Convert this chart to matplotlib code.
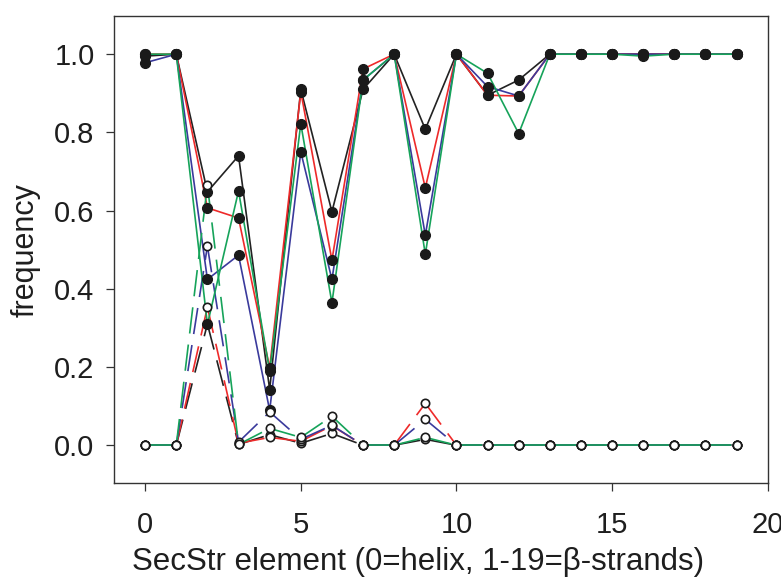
import numpy as np
import matplotlib
matplotlib.use("Agg")
import matplotlib.pyplot as plt

plt.rcParams['font.family'] = ['Liberation Sans', 'DejaVu Sans']
plt.rcParams['lines.scale_dashes'] = False

element = np.arange(20)

# filled points, solid lines (strand frequency)
black_solid = [0.995, 1.0, 0.648, 0.740, 0.142, 0.910, 0.597, 0.910, 1.0, 0.808,
               1.0, 0.895, 0.934, 1.0, 1.0, 1.0, 1.0, 1.0, 1.0, 1.0]
red_solid = [1.0, 1.0, 0.607, 0.581, 0.198, 0.904, 0.473, 0.962, 1.0, 0.658,
             1.0, 0.895, 0.893, 1.0, 1.0, 1.0, 1.0, 1.0, 1.0, 1.0]
blue_solid = [0.978, 1.0, 0.424, 0.486, 0.089, 0.750, 0.424, 0.934, 1.0, 0.537,
              1.0, 0.917, 0.893, 1.0, 1.0, 1.0, 1.0, 1.0, 1.0, 1.0]
green_solid = [1.0, 1.0, 0.309, 0.650, 0.190, 0.822, 0.364, 0.934, 1.0, 0.488,
               1.0, 0.951, 0.797, 1.0, 1.0, 1.0, 0.995, 1.0, 1.0, 1.0]

# open points, dashed lines
black_dash = [0, 0, 0.310, 0.002, 0.027, 0.005, 0.030, 0, 0, 0.015,
              0, 0, 0, 0, 0, 0, 0, 0, 0, 0]
red_dash = [0, 0, 0.353, 0.005, 0.020, 0.010, 0.050, 0, 0, 0.107,
            0, 0, 0, 0, 0, 0, 0, 0, 0, 0]
blue_dash = [0, 0, 0.509, 0.008, 0.085, 0.015, 0.051, 0, 0, 0.066,
             0, 0, 0, 0, 0, 0, 0, 0, 0, 0]
green_dash = [0, 0, 0.665, 0.002, 0.043, 0.020, 0.074, 0, 0, 0.020,
              0, 0, 0, 0, 0, 0, 0, 0, 0, 0]

colors = ['#222222', '#ee2a2a', '#3a3a9c', '#16a35a']
solids = [black_solid, red_solid, blue_solid, green_solid]
dashes = [black_dash, red_dash, blue_dash, green_dash]

fig = plt.figure(figsize=(7.81, 5.8), dpi=100)
ax = fig.add_axes([0.146, 0.167, 0.837, 0.805])

for c, s, d in zip(colors, solids, dashes):
    ax.plot(element, s, color=c, lw=1.2, zorder=2)
    # dash pattern restarts on every segment (like R type="b")
    for i in range(len(element) - 1):
        ax.plot(element[i:i + 2], d[i:i + 2], color=c, lw=1.2,
                dashes=(19, 8), zorder=2)

for s, d in zip(solids, dashes):
    ax.plot(element, s, 'o', ms=7, mfc='#1a1a1a', mec='#1a1a1a', zorder=3)
    ax.plot(element, d, 'o', ms=6, mfc='white', mec='#1a1a1a', mew=1.2, zorder=3)

ax.set_xlim(-1, 20)
ax.set_ylim(-0.097, 1.097)
ax.set_xticks([0, 5, 10, 15, 20])
ax.set_yticks([0, 0.2, 0.4, 0.6, 0.8, 1.0])
ax.set_yticklabels(['0.0', '0.2', '0.4', '0.6', '0.8', '1.0'])
ax.tick_params(labelsize=21, length=6, width=0.9, color='#333333', labelcolor='#1e1e1e')
ax.tick_params(axis='x', pad=14)
ax.tick_params(axis='y', pad=8)
for sp in ax.spines.values():
    sp.set_linewidth(1.0)
    sp.set_color('#333333')

ax.set_xlabel('SecStr element (0=helix, 1-19=β-strands)', fontsize=22.5, color='#1e1e1e')
ax.xaxis.set_label_coords(0.465, -0.137)
ax.set_ylabel('frequency', fontsize=22, color='#1e1e1e', labelpad=10)

fig.savefig('out.png', dpi=100)
